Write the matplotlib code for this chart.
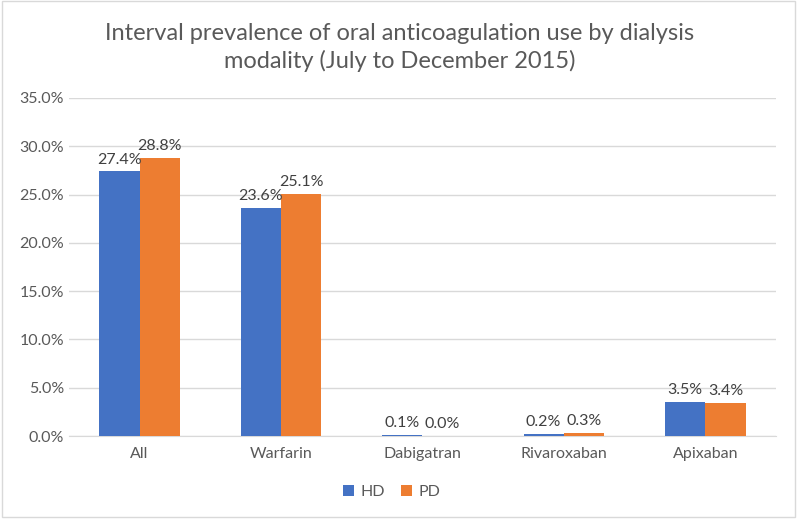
"""Interval prevalence of oral anticoagulation use by dialysis modality."""
import numpy as np
import matplotlib.pyplot as plt
from matplotlib.patches import Rectangle
from matplotlib.ticker import FuncFormatter

categories = ['All', 'Warfarin', 'Dabigatran', 'Rivaroxaban', 'Apixaban']
hd = [27.4, 23.6, 0.1, 0.2, 3.5]
pd_vals = [28.8, 25.1, 0.0, 0.3, 3.4]

plt.rcParams['font.family'] = ['Lato', 'DejaVu Sans']

fig = plt.figure(figsize=(8, 5.21), dpi=100)
ax = fig.add_axes([0.086, 0.163, 0.884, 0.649])

x = np.arange(len(categories))
w = 0.285
b1 = ax.bar(x - w / 2, hd, w, color='#4472C4', label='HD', zorder=3)
b2 = ax.bar(x + w / 2, pd_vals, w, color='#ED7D31', label='PD', zorder=3)

for bars in (b1, b2):
    for bar in bars:
        v = bar.get_height()
        ax.text(bar.get_x() + bar.get_width() / 2, v + 0.5, f'{v:.1f}%',
                ha='center', va='bottom', fontsize=11.5, color='#404040')

ax.set_xlim(-0.5, len(categories) - 0.5)
ax.set_ylim(0, 35)
ax.set_yticks(np.arange(0, 36, 5))
ax.yaxis.set_major_formatter(FuncFormatter(lambda v, p: f'{v:.1f}%'))
ax.set_xticks(x)
ax.set_xticklabels(categories)
ax.tick_params(axis='both', length=0, labelsize=11.5, labelcolor='#595959')
ax.tick_params(axis='x', pad=8)
ax.grid(axis='y', color='#d9d9d9', linewidth=1, zorder=0)
for s in ['top', 'right', 'left']:
    ax.spines[s].set_visible(False)
ax.spines['bottom'].set_color('#d9d9d9')

fig.suptitle('Interval prevalence of oral anticoagulation use by dialysis\nmodality (July to December 2015)',
             y=0.955, fontsize=17, color='#595959', linespacing=1.3)

fig.legend(loc='center', bbox_to_anchor=(0.49, 0.055), ncol=2, frameon=False,
           fontsize=11.5, labelcolor='#595959', handlelength=0.7, handleheight=0.7,
           columnspacing=1.0, handletextpad=0.4)

fig.patches.append(Rectangle((0.002, 0.008), 0.992, 0.99, transform=fig.transFigure,
                             fill=False, edgecolor='#d9d9d9', linewidth=1))

fig.savefig('out.png', dpi=100)
